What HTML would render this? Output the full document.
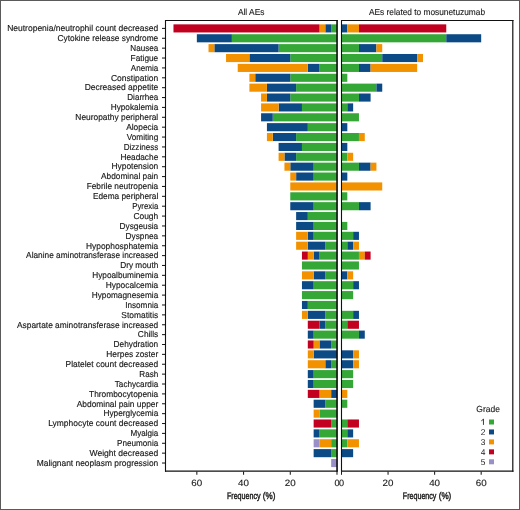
<!DOCTYPE html>
<html><head><meta charset="utf-8"><style>
html,body{margin:0;padding:0;background:#fff;}
.wrap{position:relative;width:520px;height:510px;overflow:hidden;}
svg{position:absolute;left:0;top:0;will-change:transform;text-rendering:geometricPrecision;}
.lab{font-family:"Liberation Sans",sans-serif;font-size:8.65px;fill:#1a1a1a;stroke:#1a1a1a;stroke-width:0.15;}
.ttl{font-family:"Liberation Sans",sans-serif;font-size:8.8px;fill:#1a1a1a;stroke:#1a1a1a;stroke-width:0.12;}
.num{font-family:"Liberation Sans",sans-serif;font-size:9.1px;fill:#1a1a1a;stroke:#1a1a1a;stroke-width:0.12;}
.lg{font-family:"Liberation Sans",sans-serif;font-size:8.4px;fill:#1a1a1a;}
.xl{font-family:"Liberation Sans",sans-serif;font-size:9.6px;fill:#1a1a1a;stroke:#1a1a1a;stroke-width:0.42;}
.tk{stroke:#1a1a1a;stroke-width:1.05;}
.pan{fill:none;stroke:#111;stroke-width:1.2;}
</style></head><body><div class="wrap">
<svg width="520" height="510" viewBox="0 0 520 510">
<rect x="0" y="0" width="520" height="510" fill="#fff"/>
<rect x="331.16" y="24.35" width="5.84" height="8.1" fill="#35a737"/>
<rect x="325.32" y="24.35" width="5.84" height="8.1" fill="#0c4a86"/>
<rect x="319.48" y="24.35" width="5.84" height="8.1" fill="#f39200"/>
<rect x="173.48" y="24.35" width="146.00" height="8.1" fill="#c2001f"/>
<rect x="341.50" y="24.35" width="5.82" height="8.1" fill="#0c4a86"/>
<rect x="347.32" y="24.35" width="11.64" height="8.1" fill="#f39200"/>
<rect x="358.96" y="24.35" width="87.30" height="8.1" fill="#c2001f"/>
<text x="158.25" y="31.20" text-anchor="end" class="lab" textLength="151.06" lengthAdjust="spacingAndGlyphs">Neutropenia/neutrophil count decreased</text>
<line x1="162" x2="165.5" y1="28.4" y2="28.4" class="tk"/>
<rect x="231.88" y="34.23" width="105.12" height="8.1" fill="#35a737"/>
<rect x="196.84" y="34.23" width="35.04" height="8.1" fill="#0c4a86"/>
<rect x="341.50" y="34.23" width="104.76" height="8.1" fill="#35a737"/>
<rect x="446.26" y="34.23" width="34.92" height="8.1" fill="#0c4a86"/>
<text x="158.25" y="41.08" text-anchor="end" class="lab" textLength="100.68" lengthAdjust="spacingAndGlyphs">Cytokine release syndrome</text>
<line x1="162" x2="165.5" y1="38.28" y2="38.28" class="tk"/>
<rect x="278.60" y="44.11" width="58.40" height="8.1" fill="#35a737"/>
<rect x="214.36" y="44.11" width="64.24" height="8.1" fill="#0c4a86"/>
<rect x="208.52" y="44.11" width="5.84" height="8.1" fill="#f39200"/>
<rect x="341.50" y="44.11" width="17.46" height="8.1" fill="#35a737"/>
<rect x="358.96" y="44.11" width="17.46" height="8.1" fill="#0c4a86"/>
<rect x="376.42" y="44.11" width="5.82" height="8.1" fill="#f39200"/>
<text x="158.25" y="50.96" text-anchor="end" class="lab" textLength="27.92" lengthAdjust="spacingAndGlyphs">Nausea</text>
<line x1="162" x2="165.5" y1="48.16" y2="48.16" class="tk"/>
<rect x="290.28" y="53.98" width="46.72" height="8.1" fill="#35a737"/>
<rect x="249.40" y="53.98" width="40.88" height="8.1" fill="#0c4a86"/>
<rect x="226.04" y="53.98" width="23.36" height="8.1" fill="#f39200"/>
<rect x="341.50" y="53.98" width="40.74" height="8.1" fill="#35a737"/>
<rect x="382.24" y="53.98" width="34.92" height="8.1" fill="#0c4a86"/>
<rect x="417.16" y="53.98" width="5.82" height="8.1" fill="#f39200"/>
<text x="158.25" y="60.83" text-anchor="end" class="lab" textLength="27.66" lengthAdjust="spacingAndGlyphs">Fatigue</text>
<line x1="162" x2="165.5" y1="58.03" y2="58.03" class="tk"/>
<rect x="319.48" y="63.86" width="17.52" height="8.1" fill="#35a737"/>
<rect x="307.80" y="63.86" width="11.68" height="8.1" fill="#0c4a86"/>
<rect x="237.72" y="63.86" width="70.08" height="8.1" fill="#f39200"/>
<rect x="341.50" y="63.86" width="17.46" height="8.1" fill="#35a737"/>
<rect x="358.96" y="63.86" width="11.64" height="8.1" fill="#0c4a86"/>
<rect x="370.60" y="63.86" width="46.56" height="8.1" fill="#f39200"/>
<text x="158.25" y="70.71" text-anchor="end" class="lab" textLength="27.42" lengthAdjust="spacingAndGlyphs">Anemia</text>
<line x1="162" x2="165.5" y1="67.91" y2="67.91" class="tk"/>
<rect x="290.28" y="73.74" width="46.72" height="8.1" fill="#35a737"/>
<rect x="255.24" y="73.74" width="35.04" height="8.1" fill="#0c4a86"/>
<rect x="249.40" y="73.74" width="5.84" height="8.1" fill="#f39200"/>
<rect x="341.50" y="73.74" width="5.82" height="8.1" fill="#35a737"/>
<text x="158.25" y="80.59" text-anchor="end" class="lab" textLength="47.32" lengthAdjust="spacingAndGlyphs">Constipation</text>
<line x1="162" x2="165.5" y1="77.79" y2="77.79" class="tk"/>
<rect x="296.12" y="83.62" width="40.88" height="8.1" fill="#35a737"/>
<rect x="266.92" y="83.62" width="29.20" height="8.1" fill="#0c4a86"/>
<rect x="249.40" y="83.62" width="17.52" height="8.1" fill="#f39200"/>
<rect x="341.50" y="83.62" width="34.92" height="8.1" fill="#35a737"/>
<rect x="376.42" y="83.62" width="5.82" height="8.1" fill="#0c4a86"/>
<text x="158.25" y="90.47" text-anchor="end" class="lab" textLength="73.6" lengthAdjust="spacingAndGlyphs">Decreased appetite</text>
<line x1="162" x2="165.5" y1="87.67" y2="87.67" class="tk"/>
<rect x="290.28" y="93.50" width="46.72" height="8.1" fill="#35a737"/>
<rect x="266.92" y="93.50" width="23.36" height="8.1" fill="#0c4a86"/>
<rect x="261.08" y="93.50" width="5.84" height="8.1" fill="#f39200"/>
<rect x="341.50" y="93.50" width="17.46" height="8.1" fill="#35a737"/>
<rect x="358.96" y="93.50" width="11.64" height="8.1" fill="#0c4a86"/>
<text x="158.25" y="100.35" text-anchor="end" class="lab" textLength="30.99" lengthAdjust="spacingAndGlyphs">Diarrhea</text>
<line x1="162" x2="165.5" y1="97.55" y2="97.55" class="tk"/>
<rect x="301.96" y="103.37" width="35.04" height="8.1" fill="#35a737"/>
<rect x="278.60" y="103.37" width="23.36" height="8.1" fill="#0c4a86"/>
<rect x="261.08" y="103.37" width="17.52" height="8.1" fill="#f39200"/>
<rect x="341.50" y="103.37" width="5.82" height="8.1" fill="#35a737"/>
<rect x="347.32" y="103.37" width="5.82" height="8.1" fill="#0c4a86"/>
<text x="158.25" y="110.22" text-anchor="end" class="lab" textLength="47.55" lengthAdjust="spacingAndGlyphs">Hypokalemia</text>
<line x1="162" x2="165.5" y1="107.42" y2="107.42" class="tk"/>
<rect x="272.76" y="113.25" width="64.24" height="8.1" fill="#35a737"/>
<rect x="261.08" y="113.25" width="11.68" height="8.1" fill="#0c4a86"/>
<rect x="341.50" y="113.25" width="17.46" height="8.1" fill="#35a737"/>
<text x="158.25" y="120.10" text-anchor="end" class="lab" textLength="82.9" lengthAdjust="spacingAndGlyphs">Neuropathy peripheral</text>
<line x1="162" x2="165.5" y1="117.3" y2="117.3" class="tk"/>
<rect x="307.80" y="123.13" width="29.20" height="8.1" fill="#35a737"/>
<rect x="266.92" y="123.13" width="40.88" height="8.1" fill="#0c4a86"/>
<rect x="341.50" y="123.13" width="5.82" height="8.1" fill="#0c4a86"/>
<text x="158.25" y="129.98" text-anchor="end" class="lab" textLength="32.09" lengthAdjust="spacingAndGlyphs">Alopecia</text>
<line x1="162" x2="165.5" y1="127.18" y2="127.18" class="tk"/>
<rect x="296.12" y="133.01" width="40.88" height="8.1" fill="#35a737"/>
<rect x="272.76" y="133.01" width="23.36" height="8.1" fill="#0c4a86"/>
<rect x="266.92" y="133.01" width="5.84" height="8.1" fill="#f39200"/>
<rect x="341.50" y="133.01" width="17.46" height="8.1" fill="#35a737"/>
<rect x="358.96" y="133.01" width="5.82" height="8.1" fill="#f39200"/>
<text x="158.25" y="139.86" text-anchor="end" class="lab" textLength="31.51" lengthAdjust="spacingAndGlyphs">Vomiting</text>
<line x1="162" x2="165.5" y1="137.06" y2="137.06" class="tk"/>
<rect x="301.96" y="142.89" width="35.04" height="8.1" fill="#35a737"/>
<rect x="278.60" y="142.89" width="23.36" height="8.1" fill="#0c4a86"/>
<rect x="341.50" y="142.89" width="5.82" height="8.1" fill="#0c4a86"/>
<text x="158.25" y="149.74" text-anchor="end" class="lab" textLength="34.52" lengthAdjust="spacingAndGlyphs">Dizziness</text>
<line x1="162" x2="165.5" y1="146.94" y2="146.94" class="tk"/>
<rect x="296.12" y="152.76" width="40.88" height="8.1" fill="#35a737"/>
<rect x="284.44" y="152.76" width="11.68" height="8.1" fill="#0c4a86"/>
<rect x="278.60" y="152.76" width="5.84" height="8.1" fill="#f39200"/>
<rect x="341.50" y="152.76" width="5.82" height="8.1" fill="#35a737"/>
<rect x="347.32" y="152.76" width="5.82" height="8.1" fill="#f39200"/>
<text x="158.25" y="159.61" text-anchor="end" class="lab" textLength="37.84" lengthAdjust="spacingAndGlyphs">Headache</text>
<line x1="162" x2="165.5" y1="156.81" y2="156.81" class="tk"/>
<rect x="313.64" y="162.64" width="23.36" height="8.1" fill="#35a737"/>
<rect x="290.28" y="162.64" width="23.36" height="8.1" fill="#0c4a86"/>
<rect x="284.44" y="162.64" width="5.84" height="8.1" fill="#f39200"/>
<rect x="341.50" y="162.64" width="17.46" height="8.1" fill="#35a737"/>
<rect x="358.96" y="162.64" width="11.64" height="8.1" fill="#0c4a86"/>
<rect x="370.60" y="162.64" width="5.82" height="8.1" fill="#f39200"/>
<text x="158.25" y="169.49" text-anchor="end" class="lab" textLength="46.81" lengthAdjust="spacingAndGlyphs">Hypotension</text>
<line x1="162" x2="165.5" y1="166.69" y2="166.69" class="tk"/>
<rect x="313.64" y="172.52" width="23.36" height="8.1" fill="#35a737"/>
<rect x="296.12" y="172.52" width="17.52" height="8.1" fill="#0c4a86"/>
<rect x="290.28" y="172.52" width="5.84" height="8.1" fill="#f39200"/>
<rect x="341.50" y="172.52" width="5.82" height="8.1" fill="#0c4a86"/>
<text x="158.25" y="179.37" text-anchor="end" class="lab" textLength="57.19" lengthAdjust="spacingAndGlyphs">Abdominal pain</text>
<line x1="162" x2="165.5" y1="176.57" y2="176.57" class="tk"/>
<rect x="290.28" y="182.40" width="46.72" height="8.1" fill="#f39200"/>
<rect x="341.50" y="182.40" width="40.74" height="8.1" fill="#f39200"/>
<text x="158.25" y="189.25" text-anchor="end" class="lab" textLength="71.58" lengthAdjust="spacingAndGlyphs">Febrile neutropenia</text>
<line x1="162" x2="165.5" y1="186.45" y2="186.45" class="tk"/>
<rect x="290.28" y="192.28" width="46.72" height="8.1" fill="#35a737"/>
<rect x="341.50" y="192.28" width="5.82" height="8.1" fill="#35a737"/>
<text x="158.25" y="199.13" text-anchor="end" class="lab" textLength="65.27" lengthAdjust="spacingAndGlyphs">Edema peripheral</text>
<line x1="162" x2="165.5" y1="196.33" y2="196.33" class="tk"/>
<rect x="313.64" y="202.15" width="23.36" height="8.1" fill="#35a737"/>
<rect x="290.28" y="202.15" width="23.36" height="8.1" fill="#0c4a86"/>
<rect x="341.50" y="202.15" width="17.46" height="8.1" fill="#35a737"/>
<rect x="358.96" y="202.15" width="11.64" height="8.1" fill="#0c4a86"/>
<text x="158.25" y="209.00" text-anchor="end" class="lab" textLength="26.04" lengthAdjust="spacingAndGlyphs">Pyrexia</text>
<line x1="162" x2="165.5" y1="206.2" y2="206.2" class="tk"/>
<rect x="307.80" y="212.03" width="29.20" height="8.1" fill="#35a737"/>
<rect x="296.12" y="212.03" width="11.68" height="8.1" fill="#0c4a86"/>
<text x="158.25" y="218.88" text-anchor="end" class="lab" textLength="24.86" lengthAdjust="spacingAndGlyphs">Cough</text>
<line x1="162" x2="165.5" y1="216.08" y2="216.08" class="tk"/>
<rect x="313.64" y="221.91" width="23.36" height="8.1" fill="#35a737"/>
<rect x="296.12" y="221.91" width="17.52" height="8.1" fill="#0c4a86"/>
<rect x="341.50" y="221.91" width="5.82" height="8.1" fill="#35a737"/>
<text x="158.25" y="228.76" text-anchor="end" class="lab" textLength="38.66" lengthAdjust="spacingAndGlyphs">Dysgeusia</text>
<line x1="162" x2="165.5" y1="225.96" y2="225.96" class="tk"/>
<rect x="313.64" y="231.79" width="23.36" height="8.1" fill="#35a737"/>
<rect x="307.80" y="231.79" width="5.84" height="8.1" fill="#0c4a86"/>
<rect x="296.12" y="231.79" width="11.68" height="8.1" fill="#f39200"/>
<rect x="341.50" y="231.79" width="11.64" height="8.1" fill="#35a737"/>
<rect x="353.14" y="231.79" width="5.82" height="8.1" fill="#0c4a86"/>
<text x="158.25" y="238.64" text-anchor="end" class="lab" textLength="32.74" lengthAdjust="spacingAndGlyphs">Dyspnea</text>
<line x1="162" x2="165.5" y1="235.84" y2="235.84" class="tk"/>
<rect x="325.32" y="241.67" width="11.68" height="8.1" fill="#35a737"/>
<rect x="307.80" y="241.67" width="17.52" height="8.1" fill="#0c4a86"/>
<rect x="296.12" y="241.67" width="11.68" height="8.1" fill="#f39200"/>
<rect x="341.50" y="241.67" width="5.82" height="8.1" fill="#35a737"/>
<rect x="347.32" y="241.67" width="5.82" height="8.1" fill="#0c4a86"/>
<rect x="353.14" y="241.67" width="5.82" height="8.1" fill="#f39200"/>
<text x="158.25" y="248.52" text-anchor="end" class="lab" textLength="72.19" lengthAdjust="spacingAndGlyphs">Hypophosphatemia</text>
<line x1="162" x2="165.5" y1="245.72" y2="245.72" class="tk"/>
<rect x="319.48" y="251.54" width="17.52" height="8.1" fill="#35a737"/>
<rect x="313.64" y="251.54" width="5.84" height="8.1" fill="#0c4a86"/>
<rect x="307.80" y="251.54" width="5.84" height="8.1" fill="#f39200"/>
<rect x="301.96" y="251.54" width="5.84" height="8.1" fill="#c2001f"/>
<rect x="341.50" y="251.54" width="17.46" height="8.1" fill="#35a737"/>
<rect x="358.96" y="251.54" width="5.82" height="8.1" fill="#f39200"/>
<rect x="364.78" y="251.54" width="5.82" height="8.1" fill="#c2001f"/>
<text x="158.25" y="258.39" text-anchor="end" class="lab" textLength="132.14" lengthAdjust="spacingAndGlyphs">Alanine aminotransferase increased</text>
<line x1="162" x2="165.5" y1="255.59" y2="255.59" class="tk"/>
<rect x="301.96" y="261.42" width="35.04" height="8.1" fill="#35a737"/>
<rect x="341.50" y="261.42" width="17.46" height="8.1" fill="#35a737"/>
<text x="158.25" y="268.27" text-anchor="end" class="lab" textLength="38.0" lengthAdjust="spacingAndGlyphs">Dry mouth</text>
<line x1="162" x2="165.5" y1="265.47" y2="265.47" class="tk"/>
<rect x="325.32" y="271.30" width="11.68" height="8.1" fill="#35a737"/>
<rect x="313.64" y="271.30" width="11.68" height="8.1" fill="#0c4a86"/>
<rect x="301.96" y="271.30" width="11.68" height="8.1" fill="#f39200"/>
<rect x="341.50" y="271.30" width="5.82" height="8.1" fill="#0c4a86"/>
<rect x="347.32" y="271.30" width="5.82" height="8.1" fill="#f39200"/>
<text x="158.25" y="278.15" text-anchor="end" class="lab" textLength="66.02" lengthAdjust="spacingAndGlyphs">Hypoalbuminemia</text>
<line x1="162" x2="165.5" y1="275.35" y2="275.35" class="tk"/>
<rect x="313.64" y="281.18" width="23.36" height="8.1" fill="#35a737"/>
<rect x="301.96" y="281.18" width="11.68" height="8.1" fill="#0c4a86"/>
<rect x="341.50" y="281.18" width="11.64" height="8.1" fill="#35a737"/>
<rect x="353.14" y="281.18" width="5.82" height="8.1" fill="#0c4a86"/>
<text x="158.25" y="288.03" text-anchor="end" class="lab" textLength="52.59" lengthAdjust="spacingAndGlyphs">Hypocalcemia</text>
<line x1="162" x2="165.5" y1="285.23" y2="285.23" class="tk"/>
<rect x="301.96" y="291.06" width="35.04" height="8.1" fill="#35a737"/>
<rect x="341.50" y="291.06" width="11.64" height="8.1" fill="#35a737"/>
<text x="158.25" y="297.91" text-anchor="end" class="lab" textLength="66.53" lengthAdjust="spacingAndGlyphs">Hypomagnesemia</text>
<line x1="162" x2="165.5" y1="295.11" y2="295.11" class="tk"/>
<rect x="307.80" y="300.93" width="29.20" height="8.1" fill="#35a737"/>
<rect x="301.96" y="300.93" width="5.84" height="8.1" fill="#0c4a86"/>
<text x="158.25" y="307.78" text-anchor="end" class="lab" textLength="33.0" lengthAdjust="spacingAndGlyphs">Insomnia</text>
<line x1="162" x2="165.5" y1="304.98" y2="304.98" class="tk"/>
<rect x="325.32" y="310.81" width="11.68" height="8.1" fill="#35a737"/>
<rect x="307.80" y="310.81" width="17.52" height="8.1" fill="#0c4a86"/>
<rect x="301.96" y="310.81" width="5.84" height="8.1" fill="#f39200"/>
<rect x="341.50" y="310.81" width="11.64" height="8.1" fill="#35a737"/>
<rect x="353.14" y="310.81" width="5.82" height="8.1" fill="#0c4a86"/>
<text x="158.25" y="317.66" text-anchor="end" class="lab" textLength="36.88" lengthAdjust="spacingAndGlyphs">Stomatitis</text>
<line x1="162" x2="165.5" y1="314.86" y2="314.86" class="tk"/>
<rect x="325.32" y="320.69" width="11.68" height="8.1" fill="#35a737"/>
<rect x="319.48" y="320.69" width="5.84" height="8.1" fill="#0c4a86"/>
<rect x="307.80" y="320.69" width="11.68" height="8.1" fill="#c2001f"/>
<rect x="341.50" y="320.69" width="5.82" height="8.1" fill="#35a737"/>
<rect x="347.32" y="320.69" width="11.64" height="8.1" fill="#c2001f"/>
<text x="158.25" y="327.54" text-anchor="end" class="lab" textLength="141.21" lengthAdjust="spacingAndGlyphs">Aspartate aminotransferase increased</text>
<line x1="162" x2="165.5" y1="324.74" y2="324.74" class="tk"/>
<rect x="313.64" y="330.57" width="23.36" height="8.1" fill="#35a737"/>
<rect x="307.80" y="330.57" width="5.84" height="8.1" fill="#0c4a86"/>
<rect x="341.50" y="330.57" width="17.46" height="8.1" fill="#35a737"/>
<rect x="358.96" y="330.57" width="5.82" height="8.1" fill="#0c4a86"/>
<text x="158.25" y="337.42" text-anchor="end" class="lab" textLength="20.39" lengthAdjust="spacingAndGlyphs">Chills</text>
<line x1="162" x2="165.5" y1="334.62" y2="334.62" class="tk"/>
<rect x="331.16" y="340.45" width="5.84" height="8.1" fill="#35a737"/>
<rect x="319.48" y="340.45" width="11.68" height="8.1" fill="#0c4a86"/>
<rect x="313.64" y="340.45" width="5.84" height="8.1" fill="#f39200"/>
<rect x="307.80" y="340.45" width="5.84" height="8.1" fill="#c2001f"/>
<text x="158.25" y="347.30" text-anchor="end" class="lab" textLength="44.66" lengthAdjust="spacingAndGlyphs">Dehydration</text>
<line x1="162" x2="165.5" y1="344.5" y2="344.5" class="tk"/>
<rect x="313.64" y="350.32" width="23.36" height="8.1" fill="#0c4a86"/>
<rect x="307.80" y="350.32" width="5.84" height="8.1" fill="#f39200"/>
<rect x="341.50" y="350.32" width="11.64" height="8.1" fill="#0c4a86"/>
<rect x="353.14" y="350.32" width="5.82" height="8.1" fill="#f39200"/>
<text x="158.25" y="357.17" text-anchor="end" class="lab" textLength="51.95" lengthAdjust="spacingAndGlyphs">Herpes zoster</text>
<line x1="162" x2="165.5" y1="354.37" y2="354.37" class="tk"/>
<rect x="331.16" y="360.20" width="5.84" height="8.1" fill="#35a737"/>
<rect x="325.32" y="360.20" width="5.84" height="8.1" fill="#0c4a86"/>
<rect x="307.80" y="360.20" width="17.52" height="8.1" fill="#f39200"/>
<rect x="341.50" y="360.20" width="11.64" height="8.1" fill="#0c4a86"/>
<rect x="353.14" y="360.20" width="5.82" height="8.1" fill="#f39200"/>
<text x="158.25" y="367.05" text-anchor="end" class="lab" textLength="92.68" lengthAdjust="spacingAndGlyphs">Platelet count decreased</text>
<line x1="162" x2="165.5" y1="364.25" y2="364.25" class="tk"/>
<rect x="313.64" y="370.08" width="23.36" height="8.1" fill="#35a737"/>
<rect x="307.80" y="370.08" width="5.84" height="8.1" fill="#0c4a86"/>
<rect x="341.50" y="370.08" width="11.64" height="8.1" fill="#35a737"/>
<text x="158.25" y="376.93" text-anchor="end" class="lab" textLength="18.9" lengthAdjust="spacingAndGlyphs">Rash</text>
<line x1="162" x2="165.5" y1="374.13" y2="374.13" class="tk"/>
<rect x="313.64" y="379.96" width="23.36" height="8.1" fill="#35a737"/>
<rect x="307.80" y="379.96" width="5.84" height="8.1" fill="#0c4a86"/>
<rect x="341.50" y="379.96" width="11.64" height="8.1" fill="#35a737"/>
<text x="158.25" y="386.81" text-anchor="end" class="lab" textLength="43.46" lengthAdjust="spacingAndGlyphs">Tachycardia</text>
<line x1="162" x2="165.5" y1="384.01" y2="384.01" class="tk"/>
<rect x="331.16" y="389.84" width="5.84" height="8.1" fill="#0c4a86"/>
<rect x="319.48" y="389.84" width="11.68" height="8.1" fill="#f39200"/>
<rect x="307.80" y="389.84" width="11.68" height="8.1" fill="#c2001f"/>
<rect x="341.50" y="389.84" width="5.82" height="8.1" fill="#f39200"/>
<text x="158.25" y="396.69" text-anchor="end" class="lab" textLength="69.16" lengthAdjust="spacingAndGlyphs">Thrombocytopenia</text>
<line x1="162" x2="165.5" y1="393.89" y2="393.89" class="tk"/>
<rect x="325.32" y="399.71" width="11.68" height="8.1" fill="#35a737"/>
<rect x="313.64" y="399.71" width="11.68" height="8.1" fill="#0c4a86"/>
<rect x="341.50" y="399.71" width="5.82" height="8.1" fill="#35a737"/>
<text x="158.25" y="406.56" text-anchor="end" class="lab" textLength="81.48" lengthAdjust="spacingAndGlyphs">Abdominal pain upper</text>
<line x1="162" x2="165.5" y1="403.76" y2="403.76" class="tk"/>
<rect x="319.48" y="409.59" width="17.52" height="8.1" fill="#35a737"/>
<rect x="313.64" y="409.59" width="5.84" height="8.1" fill="#f39200"/>
<text x="158.25" y="416.44" text-anchor="end" class="lab" textLength="54.81" lengthAdjust="spacingAndGlyphs">Hyperglycemia</text>
<line x1="162" x2="165.5" y1="413.64" y2="413.64" class="tk"/>
<rect x="331.16" y="419.47" width="5.84" height="8.1" fill="#35a737"/>
<rect x="313.64" y="419.47" width="17.52" height="8.1" fill="#c2001f"/>
<rect x="341.50" y="419.47" width="5.82" height="8.1" fill="#35a737"/>
<rect x="347.32" y="419.47" width="11.64" height="8.1" fill="#c2001f"/>
<text x="158.25" y="426.32" text-anchor="end" class="lab" textLength="110.02" lengthAdjust="spacingAndGlyphs">Lymphocyte count decreased</text>
<line x1="162" x2="165.5" y1="423.52" y2="423.52" class="tk"/>
<rect x="319.48" y="429.35" width="17.52" height="8.1" fill="#35a737"/>
<rect x="313.64" y="429.35" width="5.84" height="8.1" fill="#0c4a86"/>
<rect x="341.50" y="429.35" width="5.82" height="8.1" fill="#35a737"/>
<rect x="347.32" y="429.35" width="5.82" height="8.1" fill="#0c4a86"/>
<text x="158.25" y="436.20" text-anchor="end" class="lab" textLength="27.81" lengthAdjust="spacingAndGlyphs">Myalgia</text>
<line x1="162" x2="165.5" y1="433.4" y2="433.4" class="tk"/>
<rect x="331.16" y="439.23" width="5.84" height="8.1" fill="#35a737"/>
<rect x="319.48" y="439.23" width="11.68" height="8.1" fill="#f39200"/>
<rect x="313.64" y="439.23" width="5.84" height="8.1" fill="#9a90c8"/>
<rect x="341.50" y="439.23" width="5.82" height="8.1" fill="#35a737"/>
<rect x="347.32" y="439.23" width="11.64" height="8.1" fill="#f39200"/>
<text x="158.25" y="446.08" text-anchor="end" class="lab" textLength="41.21" lengthAdjust="spacingAndGlyphs">Pneumonia</text>
<line x1="162" x2="165.5" y1="443.28" y2="443.28" class="tk"/>
<rect x="331.16" y="449.10" width="5.84" height="8.1" fill="#35a737"/>
<rect x="313.64" y="449.10" width="17.52" height="8.1" fill="#0c4a86"/>
<rect x="341.50" y="449.10" width="11.64" height="8.1" fill="#0c4a86"/>
<text x="158.25" y="455.95" text-anchor="end" class="lab" textLength="68.66" lengthAdjust="spacingAndGlyphs">Weight decreased</text>
<line x1="162" x2="165.5" y1="453.15" y2="453.15" class="tk"/>
<rect x="331.16" y="458.98" width="5.84" height="8.1" fill="#9a90c8"/>
<text x="158.25" y="465.83" text-anchor="end" class="lab" textLength="121.52" lengthAdjust="spacingAndGlyphs">Malignant neoplasm progression</text>
<line x1="162" x2="165.5" y1="463.03" y2="463.03" class="tk"/>
<line x1="165" x2="337.7" y1="20.5" y2="20.5" stroke="#111" stroke-width="1.1"/>
<line x1="341" x2="513.5" y1="20.5" y2="20.5" stroke="#111" stroke-width="1.1"/>
<line x1="165" x2="337.7" y1="471.1" y2="471.1" stroke="#111" stroke-width="1.4"/>
<line x1="341" x2="513.5" y1="471.1" y2="471.1" stroke="#111" stroke-width="1.4"/>
<line x1="165.5" x2="165.5" y1="20" y2="471.8" stroke="#111" stroke-width="1.1"/>
<line x1="337.05" x2="337.05" y1="20" y2="471.8" stroke="#0a0a0a" stroke-width="1.6"/>
<line x1="341.5" x2="341.5" y1="20" y2="471.8" stroke="#111" stroke-width="1.1"/>
<line x1="512.8" x2="512.8" y1="20" y2="471.8" stroke="#111" stroke-width="1.2"/>
<line x1="337.00" x2="337.00" y1="471.5" y2="474.8" class="tk"/>
<line x1="341.50" x2="341.50" y1="471.5" y2="474.8" class="tk"/>
<text x="337.00" y="485.6" text-anchor="middle" class="num">0</text>
<text x="341.50" y="485.6" text-anchor="middle" class="num">0</text>
<line x1="290.28" x2="290.28" y1="471.5" y2="474.8" class="tk"/>
<line x1="388.06" x2="388.06" y1="471.5" y2="474.8" class="tk"/>
<text x="290.28" y="485.6" text-anchor="middle" class="num" textLength="10.9" lengthAdjust="spacingAndGlyphs">20</text>
<text x="388.06" y="485.6" text-anchor="middle" class="num" textLength="10.9" lengthAdjust="spacingAndGlyphs">20</text>
<line x1="243.56" x2="243.56" y1="471.5" y2="474.8" class="tk"/>
<line x1="434.62" x2="434.62" y1="471.5" y2="474.8" class="tk"/>
<text x="243.56" y="485.6" text-anchor="middle" class="num" textLength="10.9" lengthAdjust="spacingAndGlyphs">40</text>
<text x="434.62" y="485.6" text-anchor="middle" class="num" textLength="10.9" lengthAdjust="spacingAndGlyphs">40</text>
<line x1="196.84" x2="196.84" y1="471.5" y2="474.8" class="tk"/>
<line x1="481.18" x2="481.18" y1="471.5" y2="474.8" class="tk"/>
<text x="196.84" y="485.6" text-anchor="middle" class="num" textLength="10.9" lengthAdjust="spacingAndGlyphs">60</text>
<text x="481.18" y="485.6" text-anchor="middle" class="num" textLength="10.9" lengthAdjust="spacingAndGlyphs">60</text>
<text x="251.15" y="14.6" text-anchor="middle" class="ttl" textLength="26.5" lengthAdjust="spacingAndGlyphs">All AEs</text>
<text x="427.0" y="14.6" text-anchor="middle" class="ttl" textLength="116.1" lengthAdjust="spacingAndGlyphs">AEs related to mosunetuzumab</text>
<text x="226.95" y="499.2" class="xl" textLength="33.6" lengthAdjust="spacingAndGlyphs">Frequency</text>
<text x="262.85" y="499.2" class="xl" textLength="12.6" lengthAdjust="spacingAndGlyphs">(%)</text>
<text x="402.80" y="499.2" class="xl" textLength="33.6" lengthAdjust="spacingAndGlyphs">Frequency</text>
<text x="438.70" y="499.2" class="xl" textLength="12.6" lengthAdjust="spacingAndGlyphs">(%)</text>
<text x="488.15" y="411.7" text-anchor="middle" class="ttl" textLength="23.6" lengthAdjust="spacingAndGlyphs">Grade</text>
<rect x="489" y="419.50" width="5" height="5" fill="#35a737"/>
<path d="M483.45,418.90 V424.90 M481.3,420.85 L483.3,419.35" stroke="#1a1a1a" stroke-width="0.85" fill="none"/>
<rect x="489" y="429.45" width="5" height="5" fill="#0c4a86"/>
<text x="485.3" y="434.85" text-anchor="end" class="lg">2</text>
<rect x="489" y="439.40" width="5" height="5" fill="#f39200"/>
<text x="485.3" y="444.80" text-anchor="end" class="lg">3</text>
<rect x="489" y="449.35" width="5" height="5" fill="#c2001f"/>
<text x="485.3" y="454.75" text-anchor="end" class="lg">4</text>
<rect x="489" y="459.30" width="5" height="5" fill="#9a90c8"/>
<text x="485.3" y="464.70" text-anchor="end" class="lg">5</text>
<rect x="0.5" y="0.5" width="519" height="509" fill="none" stroke="#5a5a5a" stroke-width="1"/>
</svg></div></body></html>
